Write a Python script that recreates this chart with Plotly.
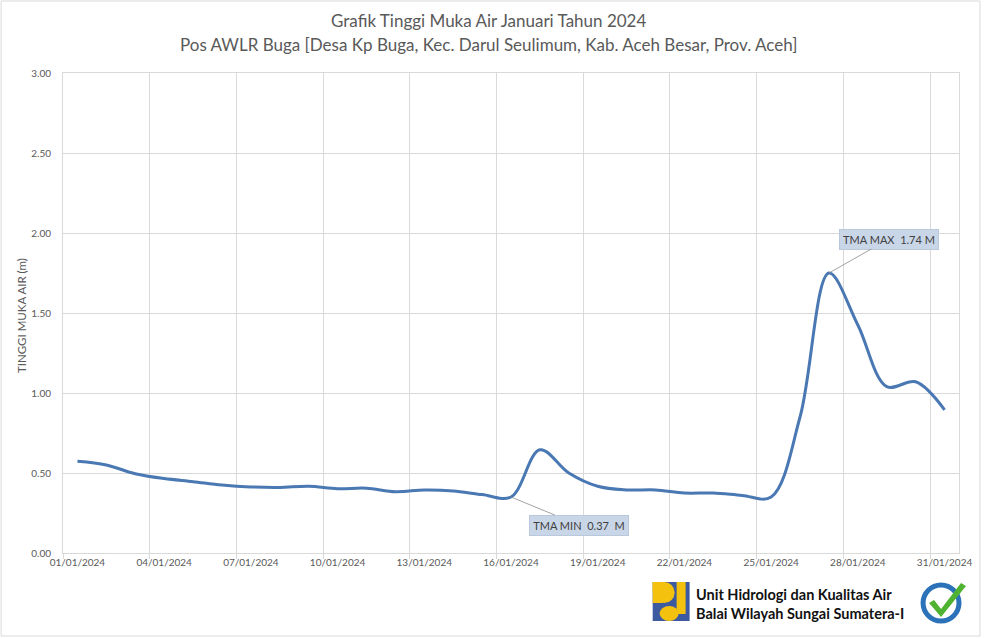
import plotly.graph_objects as go

# ---------------- data ----------------
dates = [f"2024-01-{d:02d} 12:00" for d in range(1, 32)]
tma = [0.573, 0.55, 0.495, 0.465, 0.446, 0.425, 0.413, 0.41, 0.417, 0.402,
       0.405, 0.383, 0.394, 0.388, 0.365, 0.35, 0.645, 0.50, 0.417, 0.394,
       0.394, 0.375, 0.375, 0.36, 0.35, 0.85, 1.75, 1.425, 1.04, 1.07, 0.895]
tick_dates = dates[::3]
title1 = "Grafik Tinggi Muka Air Januari Tahun 2024"
title2 = "Pos AWLR Buga [Desa Kp Buga, Kec. Darul Seulimum, Kab. Aceh Besar, Prov. Aceh]"
ytitle = "TINGGI MUKA AIR (m)"
min_label = "TMA MIN&nbsp; 0.37&nbsp; M"
max_label = "TMA MAX&nbsp; 1.74 M"
footer1 = "Unit Hidrologi dan Kualitas Air"
footer2 = "Balai Wilayah Sungai Sumatera-I"

# ---------------- layout geometry ----------------
W, H = 984, 638
L, R, T, B = 63, 961, 73, 553
def px(x):
    return (x - L) / (R - L)
def py(y):
    return (B - y) / (B - T)

GRID = "#d9d9d9"
TXT = "#595959"
FONT = "Lato"

fig = go.Figure()
fig.add_trace(go.Scatter(
    x=dates, y=tma, mode="lines",
    line=dict(color="#4a78b3", width=3, shape="spline", smoothing=1.0),
    hoverinfo="x+y", showlegend=False,
))

imin = tma.index(min(tma[:20]))
imax = tma.index(max(tma))

annotations = [
    dict(text=title1, x=px(489), y=py(20), xref="paper", yref="paper",
         xanchor="center", yanchor="middle", showarrow=False,
         font=dict(family=FONT, size=17, color=TXT)),
    dict(text=title2, x=px(489), y=py(45), xref="paper", yref="paper",
         xanchor="center", yanchor="middle", showarrow=False,
         font=dict(family=FONT, size=17, color=TXT)),
    dict(text=ytitle, x=px(21), y=py(316), xref="paper", yref="paper",
         xanchor="center", yanchor="middle", showarrow=False, textangle=-90,
         font=dict(family=FONT, size=11.5, color=TXT)),
    dict(text=min_label, x=dates[imin], y=tma[imin], xref="x", yref="y",
         ax=68, ay=28, showarrow=True, arrowhead=0, arrowwidth=0.8,
         arrowcolor="#8c8c8c", standoff=0, width=96, height=17,
         bgcolor="#c9d6e8", bordercolor="#b9c8dc", borderwidth=1,
         font=dict(family=FONT, size=11, color="#404040")),
    dict(text=max_label, x=dates[imax], y=tma[imax], xref="x", yref="y",
         ax=60, ay=-34, showarrow=True, arrowhead=0, arrowwidth=0.8,
         arrowcolor="#8c8c8c", standoff=0, width=96, height=17,
         bgcolor="#c9d6e8", bordercolor="#b9c8dc", borderwidth=1,
         font=dict(family=FONT, size=11, color="#404040")),
    dict(text="<b>" + footer1 + "</b>", x=px(695), y=py(594), xref="paper", yref="paper",
         xanchor="left", yanchor="middle", showarrow=False,
         font=dict(family=FONT, size=14.5, color="#111111")),
    dict(text="<b>" + footer2 + "</b>", x=px(695), y=py(613), xref="paper", yref="paper",
         xanchor="left", yanchor="middle", showarrow=False,
         font=dict(family=FONT, size=14.5, color="#111111")),
]

def P(points, close=True):
    s = ""
    for i, (a, b) in enumerate(points):
        s += ("M" if i == 0 else "L") + f"{px(a):.5f},{py(b):.5f} "
    return s + ("Z" if close else "")

shapes = [
    # outer chart border
    dict(type="rect", xref="paper", yref="paper", x0=px(1), x1=px(982), y0=py(1), y1=py(636),
         line=dict(color="#d9d9d9", width=1), fillcolor="rgba(0,0,0,0)", layer="below"),
    # PU logo: blue square
    dict(type="rect", xref="paper", yref="paper", x0=px(654), x1=px(691), y0=py(621), y1=py(582),
         line=dict(width=0), fillcolor="#3d5aa0"),
    # yellow D shape top-left
    dict(type="rect", xref="paper", yref="paper", x0=px(654), x1=px(664), y0=py(603), y1=py(582),
         line=dict(width=0), fillcolor="#f4c10f"),
    dict(type="circle", xref="paper", yref="paper", x0=px(655), x1=px(676), y0=py(603), y1=py(582),
         line=dict(width=0), fillcolor="#f4c10f"),
    dict(type="rect", xref="paper", yref="paper", x0=px(654), x1=px(665), y0=py(592), y1=py(582),
         line=dict(width=0), fillcolor="#f4c10f"),
    # yellow right bar
    dict(type="rect", xref="paper", yref="paper", x0=px(678), x1=px(687), y0=py(614), y1=py(582),
         line=dict(width=0), fillcolor="#f4c10f"),
    # yellow bottom half-disc
    dict(type="circle", xref="paper", yref="paper", x0=px(661), x1=px(680), y0=py(621), y1=py(606),
         line=dict(width=0), fillcolor="#f4c10f"),
    dict(type="rect", xref="paper", yref="paper", x0=px(654), x1=px(691), y0=py(626), y1=py(621),
         line=dict(width=0), fillcolor="white"),
    # certification badge
    dict(type="circle", xref="paper", yref="paper", x0=px(925), x1=px(961), y0=py(621), y1=py(585),
         line=dict(color="#2b72b8", width=5), fillcolor="white"),
    dict(type="path", xref="paper", yref="paper",
         path=P([(931, 603), (936, 600), (943, 609), (963, 583), (968, 586), (943, 617)]),
         line=dict(width=0), fillcolor="#4fb331"),
]

fig.update_layout(
    width=W, height=H,
    margin=dict(l=L, r=W - R, t=T, b=H - B, pad=0),
    paper_bgcolor="white", plot_bgcolor="white",
    font=dict(family=FONT, size=10, color=TXT),
    annotations=annotations, shapes=shapes,
    xaxis=dict(
        type="date", range=["2024-01-01", "2024-02-01"],
        tickmode="array", tickvals=tick_dates, tickformat="%d/%m/%Y",
        showgrid=False, ticks="", zeroline=False,
        showline=True, linecolor=GRID, mirror=True,
        tickfont=dict(family=FONT, size=10, color=TXT),
        minor=dict(tickmode="linear", tick0="2024-01-01", dtick=3 * 86400000,
                   showgrid=True, gridcolor=GRID, gridwidth=1,
                   ticks="outside", ticklen=5, tickcolor=GRID),
        fixedrange=True,
    ),
    yaxis=dict(
        range=[0, 3], dtick=0.5, tickformat=".2f",
        showgrid=True, gridcolor=GRID, zeroline=False,
        showline=True, linecolor=GRID, mirror=True,
        ticks="", ticklabelstandoff=9,
        tickfont=dict(family=FONT, size=10, color=TXT),
        fixedrange=True,
    ),
)

fig.write_html("out.html")
